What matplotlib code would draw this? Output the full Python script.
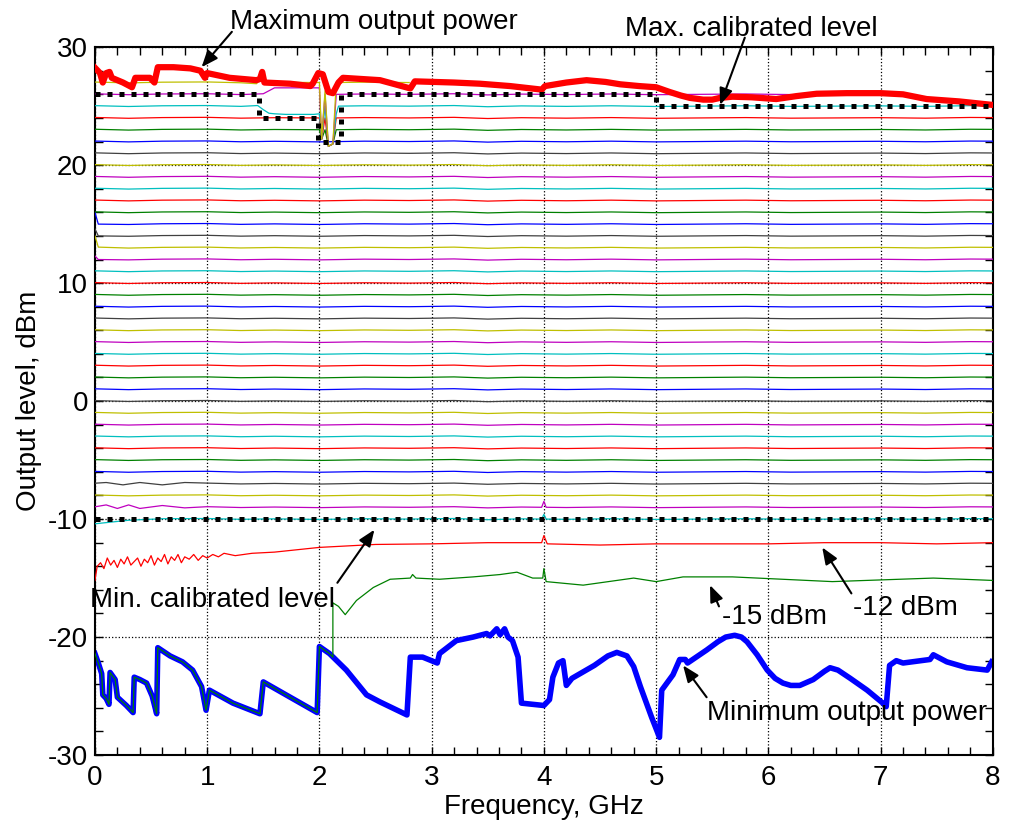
import numpy as np
import matplotlib.pyplot as plt

plt.rcParams['font.family'] = ['Liberation Sans', 'DejaVu Sans']
plt.rcParams['axes.unicode_minus'] = False

# old matlab colour order
cycle = [(0, 0, 1), (0, 0.5, 0), (1, 0, 0), (0, 0.75, 0.75),
         (0.75, 0, 0.75), (0.75, 0.75, 0), (0.25, 0.25, 0.25)]

# maximum output power (thick red)
max_freq = [0, 0.045, 0.07, 0.1, 0.13, 0.15, 0.2, 0.25, 0.33, 0.36, 0.49, 0.53, 0.56, 0.7,
            0.85, 0.94, 0.98, 1.0, 1.2, 1.44, 1.47, 1.49, 1.51, 1.74, 1.92, 1.94, 1.99,
            2.03, 2.08, 2.12, 2.17, 2.21, 2.54, 2.81, 2.85, 3.2, 3.43, 3.7, 3.98, 4.01,
            4.2, 4.38, 4.55, 4.68, 4.85, 5.0, 5.12, 5.22, 5.3, 5.42, 5.5, 5.57, 5.68, 5.85,
            6.07, 6.25, 6.43, 6.7, 7.0, 7.2, 7.41, 7.7, 8.0]
max_dbm = [28.25, 27.8, 27.0, 27.8, 27.9, 27.4, 27.2, 27.0, 26.6, 27.4, 27.4, 27.0, 28.3, 28.3,
           28.2, 28.0, 27.4, 27.8, 27.4, 27.2, 27.3, 27.9, 27.0, 26.9, 26.7, 26.9, 27.8,
           27.7, 26.2, 26.1, 27.0, 27.4, 27.2, 26.5, 27.1, 27.0, 26.9, 26.7, 26.4, 26.7,
           27.0, 27.2, 27.05, 26.85, 26.7, 26.6, 26.2, 25.9, 25.7, 25.55, 25.55, 25.7,
           25.8, 25.75, 25.6, 25.85, 26.05, 26.1, 26.1, 26.0, 25.6, 25.4, 25.1]

# minimum output power (thick blue)
min_freq = [0, 0.03, 0.06, 0.07, 0.1, 0.125, 0.135, 0.18, 0.2, 0.28, 0.34, 0.35, 0.4, 0.46,
            0.51, 0.55, 0.56, 0.67, 0.78, 0.87, 0.95, 0.99, 1.02, 1.23, 1.47, 1.5, 1.74,
            1.98, 2.0, 2.09, 2.24, 2.42, 2.54, 2.78, 2.81, 2.92, 3.05, 3.07, 3.22, 3.37,
            3.49, 3.52, 3.58, 3.61, 3.65, 3.68, 3.72, 3.77, 3.8, 4.0, 4.05, 4.08, 4.13,
            4.17, 4.2, 4.25, 4.45, 4.57, 4.65, 4.74, 4.8, 4.86, 4.96, 5.03, 5.05, 5.15,
            5.21, 5.26, 5.28, 5.45, 5.55, 5.62, 5.7, 5.76, 5.81, 5.9, 5.99, 6.06, 6.13,
            6.2, 6.28, 6.4, 6.5, 6.55, 6.62, 6.73, 6.88, 7.02, 7.05, 7.08, 7.14, 7.2, 7.44,
            7.47, 7.59, 7.77, 7.95, 7.99]
min_dbm = [-21.4, -22.2, -23.1, -24.9, -25.2, -25.7, -23.0, -23.6, -25.1, -25.8, -26.4, -23.4,
           -23.6, -23.9, -25.0, -26.5, -20.9, -21.6, -22.1, -22.8, -24.2, -26.2, -24.5,
           -25.6, -26.5, -23.8, -25.1, -26.4, -20.8, -21.4, -22.8, -24.9, -25.5, -26.6,
           -21.7, -21.7, -22.2, -21.4, -20.3, -20.0, -19.7, -19.9, -19.3, -19.8, -19.3,
           -20.0, -20.3, -21.7, -25.6, -25.8, -25.3, -23.4, -22.2, -22.0, -24.1, -23.5,
           -22.4, -21.6, -21.3, -21.6, -22.5, -24.2, -26.8, -28.5, -24.5, -23.2, -21.9,
           -21.9, -22.2, -21.1, -20.4, -20.0, -19.85, -20.0, -20.4, -21.5, -22.8, -23.5,
           -23.9, -24.1, -24.1, -23.6, -22.9, -22.6, -22.8, -23.5, -24.5, -25.6, -25.9,
           -22.4, -22.0, -22.2, -21.9, -21.5, -22.1, -22.6, -22.8, -22.1]

# calibrated range (thick dotted black)
cal_hi_freq = [0, 1.46, 1.46, 1.99, 1.99, 2.19, 2.19, 5.0, 5.0, 8.0]
cal_hi_dbm = [26, 26, 24, 24, 22, 22, 26, 26, 25, 25]
cal_lo_freq = [0, 8]
cal_lo_dbm = [-10, -10]

# set levels, dBm
levels = list(range(-10, 28))
ripple_freq = [0, 0.3, 0.6, 1.0, 1.3, 1.6, 2.0, 2.4, 2.8, 3.2, 3.5, 3.8, 4.2, 4.6, 5.0,
               5.4, 5.8, 6.2, 6.6, 7.0, 7.4, 7.8, 8.0]
ripple_db = [0.04, -0.03, 0.03, 0.05, -0.02, 0.02, -0.03, 0.03, 0.0, 0.05, -0.05, 0.02,
             -0.02, 0.03, -0.03, 0.0, 0.03, -0.02, 0.0, 0.02, -0.02, 0.04, 0.03]

# -12 dBm trace
red12_freq = [0, 0.02, 0.05, 0.08, 0.11, 0.14, 0.17, 0.2, 0.23, 0.26, 0.29, 0.32, 0.35,
              0.38, 0.41, 0.44, 0.47, 0.5, 0.53, 0.56, 0.59, 0.62, 0.65, 0.68, 0.71, 0.74,
              0.77, 0.8, 0.84, 0.88, 0.92, 0.96, 1.0, 1.05, 1.1, 1.15, 1.25, 1.4, 1.6, 1.8,
              2.0, 2.2, 2.5, 3.0, 3.5, 3.98, 4.0, 4.03, 4.5, 5.0, 5.5, 6.0, 6.5, 7.0, 7.5, 8.0]
red12_dbm = [-15.2, -14.0, -13.7, -14.2, -13.3, -13.9, -13.5, -14.1, -13.4, -13.8, -13.2,
             -13.9, -13.6, -13.3, -14.0, -13.4, -13.7, -13.1, -13.9, -13.3, -13.6, -13.0,
             -13.8, -13.2, -13.5, -13.0, -13.7, -13.2, -13.4, -13.0, -13.5, -13.1, -13.3,
             -13.0, -13.2, -12.9, -13.1, -12.9, -12.8, -12.6, -12.4, -12.3, -12.15, -12.1,
             -12.0, -12.0, -11.4, -12.1, -12.2, -12.1, -12.1, -12.1, -12.0, -12.0, -12.1,
             -12.0]

# -15 dBm trace after it leaves the minimum power curve
green15_freq = [2.12, 2.12, 2.17, 2.23, 2.33, 2.48, 2.63, 2.81, 2.83, 2.86, 3.07, 3.37, 3.61,
                3.76, 3.9, 3.99, 4.0, 4.02, 4.35, 4.8, 5.0, 5.24, 5.68, 6.57, 7.47, 8.0]
green15_dbm = [-21.7, -17.1, -17.4, -18.1, -16.9, -15.8, -15.1, -15.0, -14.7, -15.0, -15.1,
               -14.9, -14.7, -14.5, -15.0, -15.0, -14.2, -15.3, -15.6, -15.0, -15.3, -14.9,
               -14.9, -15.3, -15.0, -15.2]

# extra points
extra_pts = {
    -10: [(0, -10.4), (0.3, -10.1), (3.98, -10.0), (4.0, -9.6), (4.02, -10.0)],
    -9: [(0.1, -8.8), (0.2, -9.1), (0.3, -8.8), (0.4, -9.1), (0.6, -8.85), (0.8, -9.05),
         (3.98, -9.0), (4.0, -8.5), (4.02, -9.0)],
    -7: [(0.1, -6.9), (0.25, -7.1), (0.4, -6.9), (0.6, -7.1), (0.8, -6.9)],
    12: [(0, 12.3), (0.03, 12.0)],
    13: [(0, 14.0), (0.03, 13.05)],
    14: [(0, 14.6), (0.03, 14.0)],
    15: [(0, 16.0), (0.03, 15.0)],
    25: [(1.45, 25.05), (1.5, 24.7), (1.55, 24.4), (1.7, 24.3), (1.95, 24.3), (2.17, 25.0)],
    26: [(1.5, 26.05), (1.6, 26.5), (1.98, 26.6), (2.17, 26.0)],
    27: [(1.44, 26.9), (1.47, 27.3), (1.52, 26.9)],
}
dip_freq = [2.0, 2.02, 2.05, 2.08, 2.12, 2.15]
dip_dbm = [None, 22.2, 26.3, 21.6, 21.8, None]
last_freq = {26: 6.45, 27: 2.8}


def trace(level):
    pts = {f: level + r for f, r in zip(ripple_freq, ripple_db)}
    for f, v in extra_pts.get(level, []):
        pts[f] = v
    if level >= 23:
        for f, v in zip(dip_freq, dip_dbm):
            pts[f] = level if v is None else min(v, level)
    inner = dip_freq[1:-1]
    for f in list(pts):
        if level == 25 and 1.55 < f < 2.17 and f not in inner:
            pts[f] = min(pts[f], 24.35)
        if level == 26 and 1.6 <= f <= 2.0 and f not in inner:
            pts[f] = 26.55
    fs = sorted(f for f in pts if f <= last_freq.get(level, 8))
    return fs, [pts[f] for f in fs]


fig = plt.figure(figsize=(10.1, 8.27), dpi=100)
ax = fig.add_axes([0.094, 0.087, 0.889, 0.856])

ax.plot(min_freq, min_dbm, color=cycle[0], lw=4.0, zorder=2)
g_freq = [f for f in min_freq if f <= 2.1] + green15_freq
g_dbm = [v for f, v in zip(min_freq, min_dbm) if f <= 2.1] + green15_dbm
ax.plot(g_freq, g_dbm, color=cycle[1], lw=0.9, zorder=3)
ax.plot(red12_freq, red12_dbm, color=cycle[2], lw=0.9, zorder=3)
for i, lev in enumerate(levels):
    fs, vs = trace(lev)
    ax.plot(fs, vs, color=cycle[(i + 3) % 7], lw=0.9, zorder=3)

ax.plot(max_freq, max_dbm, color='red', lw=4.5, zorder=4)
for fq, db in [(cal_hi_freq, cal_hi_dbm), (cal_lo_freq, cal_lo_dbm)]:
    ax.plot(fq, db, color='k', lw=3.6, linestyle=(0, (1, 1.4)),
            dash_capstyle='butt', zorder=5)

ax.set_xlim(0, 8)
ax.set_ylim(-30, 30)
ax.set_xticks(range(0, 9))
ax.set_yticks(range(-30, 31, 10))
ax.set_xticks(np.arange(0, 8.01, 0.2), minor=True)
ax.set_yticks(range(-30, 31, 2), minor=True)
ax.tick_params(which='both', direction='in', top=True, right=True, length=6, width=1)
ax.tick_params(axis='both', labelsize=20)
ax.tick_params(axis='y', pad=5)
ax.tick_params(axis='x', pad=7)
ax.grid(True, which='major', linestyle=':', color='k', lw=0.9)
for s in ax.spines.values():
    s.set_linewidth(1.5)

ax.set_xlabel('Frequency, GHz', fontsize=20, labelpad=2)
ax.set_ylabel('Output level, dBm', fontsize=20, labelpad=4)

arrow = dict(arrowstyle='-|>,head_length=1.0,head_width=0.4', color='k', lw=1.5,
             shrinkA=0, shrinkB=0)
notes = [
    ('Maximum output power', (0.95, 28.3), (1.22, 31.3), (1.2, 32.1)),
    ('Max. calibrated level', (5.57, 25.1), (5.79, 30.8), (4.72, 31.5)),
    ('Min. calibrated level', (2.49, -10.9), (2.16, -15.4), (-0.045, -16.9)),
    ('-15 dBm', (5.48, -15.6), (5.56, -17.4), (5.59, -18.3)),
    ('-12 dBm', (6.48, -12.4), (6.74, -16.3), (6.75, -17.5)),
    ('Minimum output power', (5.24, -22.4), (5.45, -25.1), (5.45, -26.4)),
]
for txt, head, tail, pos in notes:
    ax.annotate('', xy=head, xytext=tail, arrowprops=arrow, annotation_clip=False, zorder=6)
    ax.text(pos[0], pos[1], txt, fontsize=20, ha='left', va='center', clip_on=False, zorder=7)

fig.savefig('out.png', dpi=100)
